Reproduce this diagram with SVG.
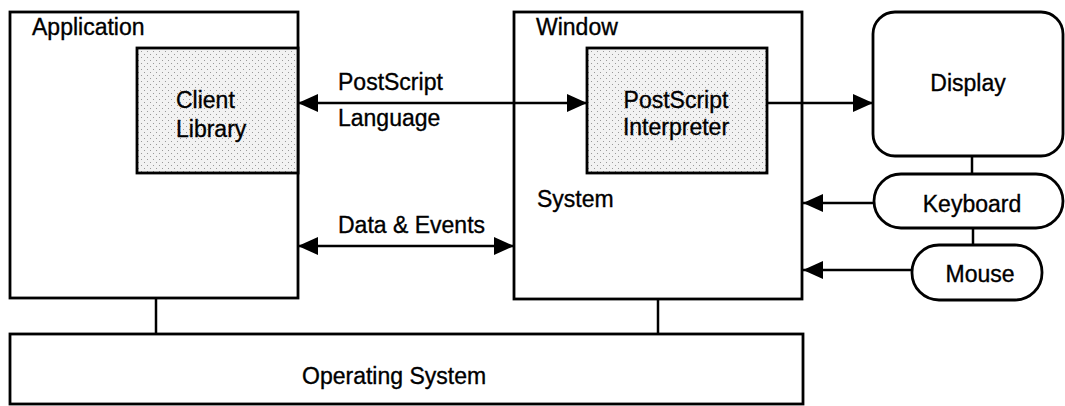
<svg xmlns="http://www.w3.org/2000/svg" width="1065" height="406" viewBox="0 0 1065 406">
<style>
.box{fill:#fff;stroke:#000;stroke-width:2.8}
.shade{fill:url(#dots);stroke:#000;stroke-width:2.8}
.ln{fill:none;stroke:#000;stroke-width:2.5}
text{font-family:"Liberation Sans",Arial,Helvetica,sans-serif;font-size:23px;fill:#000;stroke:#000;stroke-width:0.35}
.c{text-anchor:middle}
</style>
<defs>
<pattern id="dots" width="6" height="6" patternUnits="userSpaceOnUse">
<rect width="6" height="6" fill="#f2f2f2"/>
<rect x="0" y="0" width="1" height="1" fill="#999"/>
<rect x="3" y="3" width="1" height="1" fill="#999"/>
</pattern>
<marker id="ah" markerUnits="userSpaceOnUse" markerWidth="20" markerHeight="18" refX="20" refY="9" orient="auto-start-reverse" viewBox="0 0 20 18">
<path d="M0,0 L20,9 L0,18 Z" fill="#000"/>
</marker>
</defs>
<rect width="1065" height="406" fill="#fff"/>

<g id="application">
<rect class="box" x="10" y="12" width="288" height="286"/>
<text x="32" y="35">Application</text>
</g>
<g id="client-library">
<rect class="shade" x="137" y="48" width="161" height="125"/>
<text x="176" y="108">Client</text>
<text x="176" y="137">Library</text>
</g>
<g id="window-system">
<rect class="box" x="514" y="12" width="288" height="287"/>
<text x="536" y="35">Window</text>
<text x="537" y="207">System</text>
</g>
<g id="postscript-interpreter">
<rect class="shade" x="587" y="48" width="180" height="125"/>
<text class="c" x="676" y="108">PostScript</text>
<text class="c" x="676" y="135">Interpreter</text>
</g>
<g id="display">
<rect class="box" x="873" y="12" width="190" height="144" rx="22" ry="22"/>
<text class="c" x="968" y="91">Display</text>
</g>
<g id="keyboard">
<rect class="box" x="874" y="174" width="189" height="54" rx="27" ry="27"/>
<text class="c" x="972" y="212">Keyboard</text>
</g>
<g id="mouse">
<rect class="box" x="912" y="245" width="130" height="55" rx="27" ry="27"/>
<text class="c" x="980" y="282">Mouse</text>
</g>
<g id="operating-system">
<rect class="box" x="10" y="334" width="793" height="70"/>
<text x="302" y="384">Operating System</text>
</g>

<g id="connectors">
<line class="ln" x1="298" y1="103" x2="587" y2="103" marker-start="url(#ah)" marker-end="url(#ah)"/>
<text x="338" y="90">PostScript</text>
<text x="338" y="126">Language</text>
<line class="ln" x1="298" y1="246" x2="514" y2="246" marker-start="url(#ah)" marker-end="url(#ah)"/>
<text x="338" y="233">Data &amp; Events</text>
<line class="ln" x1="767" y1="103" x2="873" y2="103" marker-end="url(#ah)"/>
<line class="ln" x1="874" y1="203" x2="803" y2="203" marker-end="url(#ah)"/>
<line class="ln" x1="912" y1="270" x2="803" y2="270" marker-end="url(#ah)"/>
<line class="ln" x1="972" y1="156" x2="972" y2="174"/>
<line class="ln" x1="973" y1="228" x2="973" y2="245"/>
<line class="ln" x1="156" y1="298" x2="156" y2="334"/>
<line class="ln" x1="658" y1="299" x2="658" y2="334"/>
</g>
</svg>
